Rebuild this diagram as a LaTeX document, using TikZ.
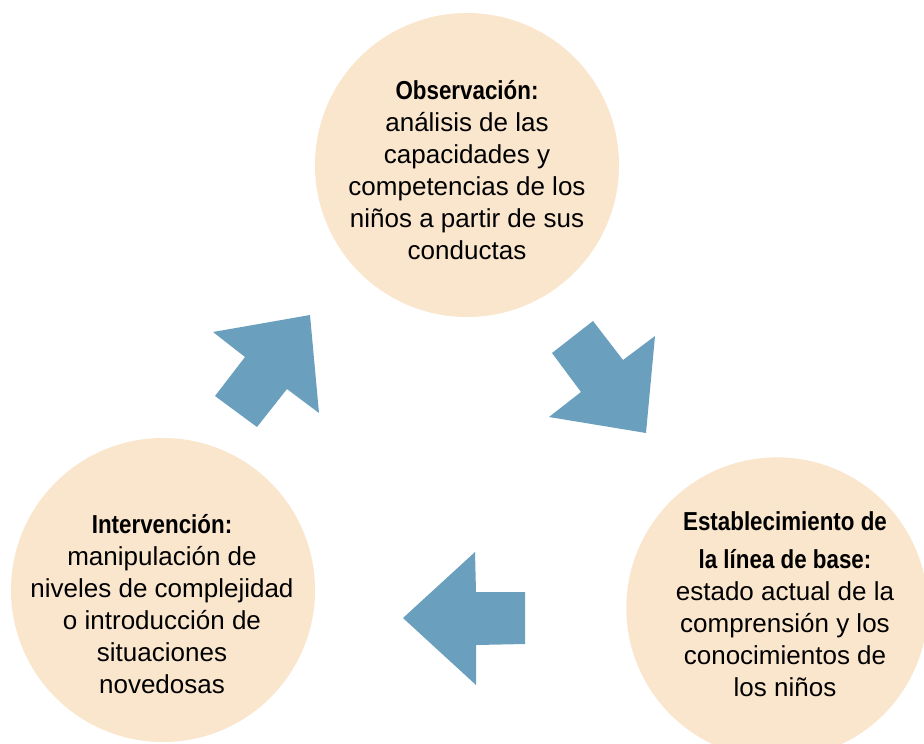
\documentclass[tikz,border=0pt]{standalone}
\usepackage{fontspec}
\setmainfont{Liberation Sans}
\newfontfamily\headfont[FakeStretch=0.86]{Liberation Sans Bold}
\usepackage{tikz}
\usetikzlibrary{positioning}
\definecolor{circfill}{RGB}{250,229,205}
\definecolor{arrowblue}{RGB}{106,159,190}

\begin{document}
\begin{tikzpicture}[x=0.75pt, y=-0.75pt,
    circ/.style={circle, fill=circfill, minimum size=228pt, inner sep=0pt},
    txt/.style={align=center, font=\fontsize{19.5}{24}\selectfont},
    flecha/.style={fill=arrowblue}]

        \useasboundingbox (0,0) rectangle (924,743);

        \node (obs) [circ] at (467,165) {};
        \node (base) [circ, minimum size=226pt] at (777,608) {};
        \node (interv) [circ] at (163,590) {};

        \node (obstxt) [txt] at (467,170) {{\headfont Observación:}\\análisis de las\\capacidades y\\competencias de los\\niños a partir de sus\\conductas};
        \node (basetxt) [txt] at (785,604) {{\headfont Establecimiento de}\\[4.5pt]{\headfont la línea de base:}\\estado actual de la\\comprensión y los\\conocimientos de\\los niños};
        \node (intervtxt) [txt] at (162,604) {{\headfont Intervención:}\\manipulación de\\niveles de complejidad\\o introducción de\\situaciones\\novedosas};

        % flechas del ciclo
        \fill[flecha] (310,315) -- (319,413) -- (287,389) -- (257,427) -- (215,396) -- (245,357) -- (213,332) -- cycle;
        \fill[flecha] (646,433) -- (549,417) -- (581,392) -- (552,353) -- (593,321) -- (623,360) -- (655,336) -- cycle;
        \fill[flecha] (403,618) -- (475,552) -- (476,592) -- (525,592) -- (525,644) -- (476,645) -- (476,685) -- cycle;
    \end{tikzpicture}
\end{document}
